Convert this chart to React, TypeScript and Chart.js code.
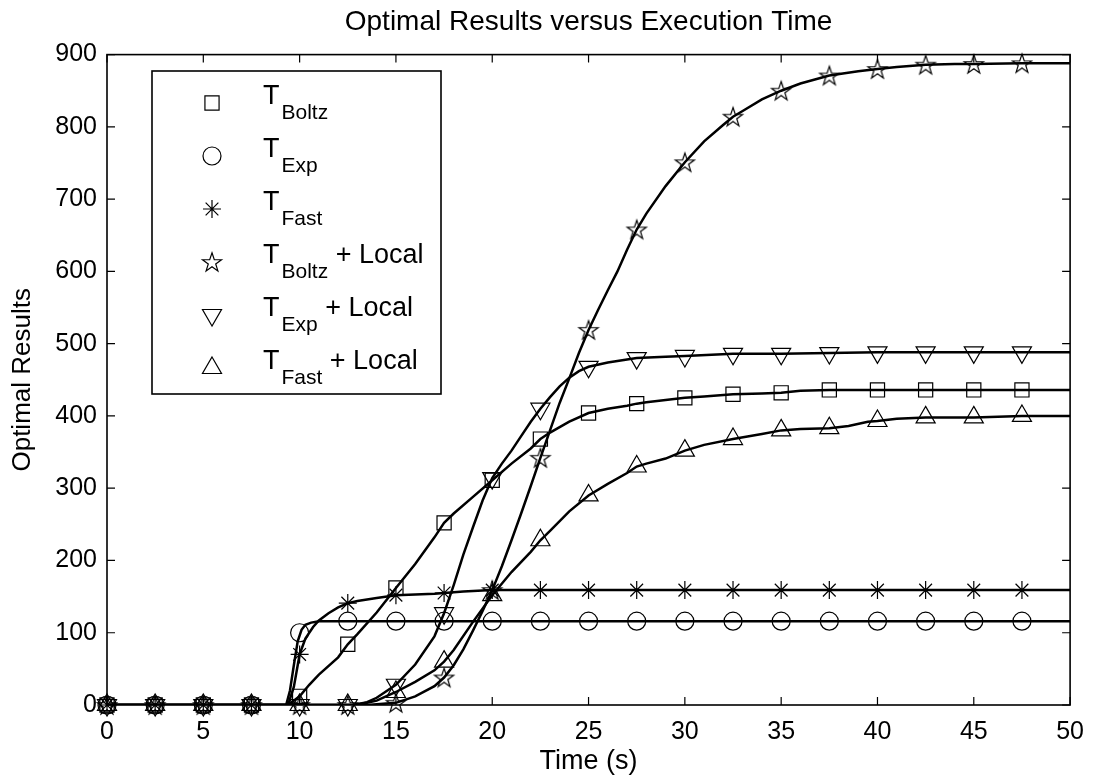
import React, { useEffect, useRef } from 'react';
import { Chart, registerables } from 'chart.js';
import { drawPoint } from 'chart.js/helpers';

Chart.register(...registerables);

const FONT = '"Liberation Sans", Arial, Helvetica, sans-serif';

// ---- tick values ----
const xTicks = [0, 5, 10, 15, 20, 25, 30, 35, 40, 45, 50];
const yTicks = [0, 100, 200, 300, 400, 500, 600, 700, 800, 900];

// ---- marker times (s) ----
const markerTimes = [0, 2.5, 5, 7.5, 10, 12.5, 15, 17.5, 20, 22.5, 25, 27.5, 30, 32.5, 35, 37.5, 40, 42.5, 45, 47.5];

// ---- marker values ----
const boltzMarks = [0, 0, 0, 0, 12, 84, 162, 252, 311, 368, 404, 417, 425, 430, 432, 436, 436, 436, 436, 436];
const expMarks = [0, 0, 0, 0, 100, 116, 116, 116, 116, 116, 116, 116, 116, 116, 116, 116, 116, 116, 116, 116];
const fastMarks = [0, 0, 0, 0, 70, 141, 152, 155, 159, 159, 159, 159, 159, 159, 159, 159, 159, 159, 159, 159];
const boltzLocalMarks = [0, 0, 0, 0, 0, 0, 3, 38, 159, 342, 519, 658, 751, 814, 850, 871, 880, 886, 887, 888];
const expLocalMarks = [0, 0, 0, 0, 0, 0, 28, 127, 314, 410, 468, 480, 483, 486, 486, 487, 488, 488, 488, 488];
const fastLocalMarks = [0, 0, 0, 0, 0, 0, 18, 60, 152, 228, 290, 330, 352, 368, 380, 383, 393, 398, 398, 400];

// ---- curves ----
const boltzCurveT = [0, 9.4, 10, 10.5, 11, 12, 12.5, 13, 14, 15, 16, 17, 17.5, 18, 19, 20, 21, 22, 22.5, 23, 24, 25, 26, 27, 27.5, 28, 29, 30, 31, 32.5, 34, 35, 36, 37.5, 40, 45, 50];
const boltzCurveV = [0, 0, 12, 28, 42, 66, 84, 98, 128, 162, 195, 232, 252, 265, 288, 311, 334, 355, 368, 377, 392, 404, 410, 414, 417, 419, 422, 425, 427, 430, 431, 432, 435, 436, 436, 436, 436];

const expCurveT = [0, 9.3, 9.5, 9.7, 9.9, 10.1, 10.3, 10.6, 11, 50];
const expCurveV = [0, 0, 20, 55, 88, 104, 111, 114, 116, 116];

const fastCurveT = [0, 9.4, 9.7, 10, 10.3, 10.7, 11, 11.5, 12, 12.5, 13, 14, 15, 16, 17, 17.5, 18.5, 20, 50];
const fastCurveV = [0, 0, 25, 70, 92, 108, 117, 127, 135, 141, 144, 148, 152, 153, 154, 155, 157, 159, 159];

const boltzLocalCurveT = [0, 13.5, 14, 15, 16, 17, 17.5, 18, 18.5, 19, 19.5, 20, 20.5, 21, 21.5, 22, 22.5, 23, 23.5, 24, 24.5, 25, 25.5, 26, 26.5, 27, 27.5, 28, 29, 30, 31, 32, 32.5, 33, 34, 35, 36, 37.5, 39, 40, 41, 42.5, 44, 45, 47.5, 50];
const boltzLocalCurveV = [0, 0, 1, 3, 12, 26, 38, 55, 77, 103, 130, 159, 192, 228, 265, 303, 342, 380, 418, 452, 487, 519, 547, 574, 600, 630, 658, 680, 718, 751, 780, 803, 814, 822, 838, 850, 860, 871, 877, 880, 883, 886, 887, 887, 888, 888];

const expLocalCurveT = [0, 12.8, 13.5, 14, 15, 16, 17, 17.5, 18, 18.5, 19, 19.5, 20, 20.5, 21, 21.5, 22, 22.5, 23, 23.5, 24, 24.5, 25, 26, 27, 27.5, 29, 30, 32.5, 35, 37.5, 40, 50];
const expLocalCurveV = [0, 0, 4, 10, 28, 56, 95, 127, 166, 208, 246, 283, 314, 334, 352, 372, 392, 410, 426, 441, 453, 462, 468, 474, 478, 480, 482, 483, 486, 486, 487, 488, 488];

const fastLocalCurveT = [0, 12.8, 13.5, 14, 15, 16, 17, 17.5, 18, 19, 20, 21, 22, 22.5, 23, 24, 25, 26, 27, 27.5, 28, 29, 30, 31, 32.5, 34, 35, 36, 37.5, 38.5, 39.5, 40, 41, 42.5, 45, 47.5, 50];
const fastLocalCurveV = [0, 0, 3, 6, 18, 32, 48, 60, 76, 115, 152, 184, 212, 228, 241, 268, 290, 306, 321, 330, 334, 341, 352, 360, 368, 375, 380, 382, 383, 386, 392, 393, 396, 398, 398, 400, 400];

// ---- legend text ----
const legendMain = ['T', 'T', 'T', 'T', 'T', 'T'];
const legendSub = ['Boltz', 'Exp', 'Fast', 'Boltz', 'Exp', 'Fast'];
const legendSuffix = ['', '', '', ' + Local', ' + Local', ' + Local'];

function makePentagram(): HTMLCanvasElement {
  const c = document.createElement('canvas');
  c.width = 24;
  c.height = 24;
  const g = c.getContext('2d')!;
  g.strokeStyle = '#000';
  g.lineWidth = 1.2;
  const cx = 12, cy = 12.8, R = 10, r = 3.9;
  g.beginPath();
  for (let i = 0; i < 10; i++) {
    const a = -Math.PI / 2 + (i * Math.PI) / 5;
    const rad = i % 2 === 0 ? R : r;
    const px = cx + rad * Math.cos(a);
    const py = cy + rad * Math.sin(a);
    if (i === 0) g.moveTo(px, py);
    else g.lineTo(px, py);
  }
  g.closePath();
  g.stroke();
  return c;
}

export default function App() {
  const ref = useRef<HTMLCanvasElement | null>(null);

  useEffect(() => {
    if (!ref.current) return;
    const pent = makePentagram();

    const series = [
      { t: boltzCurveT, v: boltzCurveV, m: boltzMarks, style: 'rect' as any, radius: 10, rotation: 0 },
      { t: expCurveT, v: expCurveV, m: expMarks, style: 'circle' as any, radius: 9, rotation: 0 },
      { t: fastCurveT, v: fastCurveV, m: fastMarks, style: 'star' as any, radius: 9, rotation: 0 },
      { t: boltzLocalCurveT, v: boltzLocalCurveV, m: boltzLocalMarks, style: pent as any, radius: 10, rotation: 0 },
      { t: expLocalCurveT, v: expLocalCurveV, m: expLocalMarks, style: 'triangle' as any, radius: 11, rotation: 180 },
      { t: fastLocalCurveT, v: fastLocalCurveV, m: fastLocalMarks, style: 'triangle' as any, radius: 11, rotation: 0 },
    ];

    const lineSets = series.map((s) => ({
      type: 'line' as const,
      data: s.t.map((t, i) => ({ x: t, y: s.v[i] })),
      borderColor: '#000',
      borderWidth: 2.5,
      pointRadius: 0,
      tension: 0,
      fill: false,
    }));
    const markSets = series.map((s) => ({
      type: 'line' as const,
      data: markerTimes.map((t, i) => ({ x: t, y: s.m[i] })),
      showLine: false,
      borderColor: '#000',
      pointStyle: s.style,
      pointRadius: s.radius,
      pointRotation: s.rotation,
      pointBorderWidth: 1.2,
      pointBorderColor: '#000',
      pointBackgroundColor: 'rgba(0,0,0,0)',
      clip: false as any,
    }));

    const boxPlugin = {
      id: 'matlabBox',
      afterDatasetsDraw(chart: any) {
        const { ctx, chartArea, scales } = chart;
        const { left, right, top, bottom } = chartArea;
        ctx.save();
        ctx.strokeStyle = '#000';
        ctx.lineWidth = 1.2;
        ctx.beginPath();
        xTicks.forEach((v) => {
          const px = scales.x.getPixelForValue(v);
          ctx.moveTo(px, bottom);
          ctx.lineTo(px, bottom - 8);
          ctx.moveTo(px, top);
          ctx.lineTo(px, top + 8);
        });
        yTicks.forEach((v) => {
          const py = scales.y.getPixelForValue(v);
          ctx.moveTo(left, py);
          ctx.lineTo(left + 8, py);
          ctx.moveTo(right, py);
          ctx.lineTo(right - 8, py);
        });
        ctx.stroke();
        ctx.lineWidth = 1.6;
        ctx.strokeRect(left, top, right - left, bottom - top);
        ctx.restore();
      },
    };

    const legendPlugin = {
      id: 'matlabLegend',
      afterDraw(chart: any) {
        const ctx = chart.ctx as CanvasRenderingContext2D;
        ctx.save();
        ctx.fillStyle = '#fff';
        ctx.fillRect(152, 71, 289, 323);
        ctx.strokeStyle = '#000';
        ctx.lineWidth = 1.6;
        ctx.strokeRect(152, 71, 289, 323);
        series.forEach((s, i) => {
          const y = 103 + i * 53;
          ctx.strokeStyle = '#000';
          ctx.fillStyle = 'rgba(0,0,0,0)';
          ctx.lineWidth = 1.2;
          drawPoint(ctx, { pointStyle: s.style, radius: s.radius, rotation: s.rotation, borderWidth: 1.2 } as any, 212, y);
          ctx.fillStyle = '#000';
          ctx.textBaseline = 'alphabetic';
          ctx.textAlign = 'left';
          ctx.font = `27px ${FONT}`;
          let x = 263;
          ctx.fillText(legendMain[i], x, y + 1);
          x += ctx.measureText(legendMain[i]).width + 2;
          ctx.font = `21px ${FONT}`;
          ctx.fillText(legendSub[i], x, y + 16);
          x += ctx.measureText(legendSub[i]).width;
          if (legendSuffix[i]) {
            ctx.font = `27px ${FONT}`;
            ctx.fillText(legendSuffix[i], x, y + 1);
          }
        });
        ctx.restore();
      },
    };

    const chart = new Chart(ref.current, {
      type: 'line',
      data: { datasets: [...lineSets, ...markSets] as any },
      options: {
        responsive: false,
        animation: false,
        events: [],
        layout: { padding: { top: 0, left: 0, right: 20, bottom: 0 } },
        plugins: {
          legend: { display: false },
          tooltip: { enabled: false },
          title: {
            display: true,
            fullSize: false,
            text: 'Optimal Results versus Execution Time',
            color: '#000',
            font: { family: FONT, size: 28, weight: 'normal', lineHeight: 1.2 },
            padding: { top: 5, bottom: 16 },
          },
        },
        scales: {
          x: {
            type: 'linear',
            min: 0,
            max: 50,
            afterBuildTicks: (s: any) => {
              s.ticks = xTicks.map((v) => ({ value: v }));
            },
            grid: { display: false, drawTicks: false },
            border: { display: false },
            ticks: { color: '#000', font: { family: FONT, size: 25 }, padding: 12, maxRotation: 0, autoSkip: false },
            title: { display: true, text: 'Time (s)', color: '#000', padding: 0, font: { family: FONT, size: 27, lineHeight: 1.2 } },
            afterFit: (s: any) => {
              s.height = 73;
            },
          },
          y: {
            type: 'linear',
            min: 0,
            max: 900,
            afterBuildTicks: (s: any) => {
              s.ticks = yTicks.map((v) => ({ value: v }));
            },
            grid: { display: false, drawTicks: false },
            border: { display: false },
            ticks: { color: '#000', font: { family: FONT, size: 25 }, padding: 10, autoSkip: false },
            title: { display: true, text: 'Optimal Results', color: '#000', padding: 0, font: { family: FONT, size: 26, lineHeight: 1.75 } },
            afterFit: (s: any) => {
              s.width = 107;
            },
          },
        },
      } as any,
      plugins: [boxPlugin, legendPlugin],
    });
    return () => chart.destroy();
  }, []);

  return (
    <div style={{ position: 'absolute', left: 0, top: 0, width: 1096, height: 778, background: '#fff' }}>
      <canvas ref={ref} width={1096} height={778} style={{ width: 1096, height: 778, display: 'block' }} />
    </div>
  );
}
